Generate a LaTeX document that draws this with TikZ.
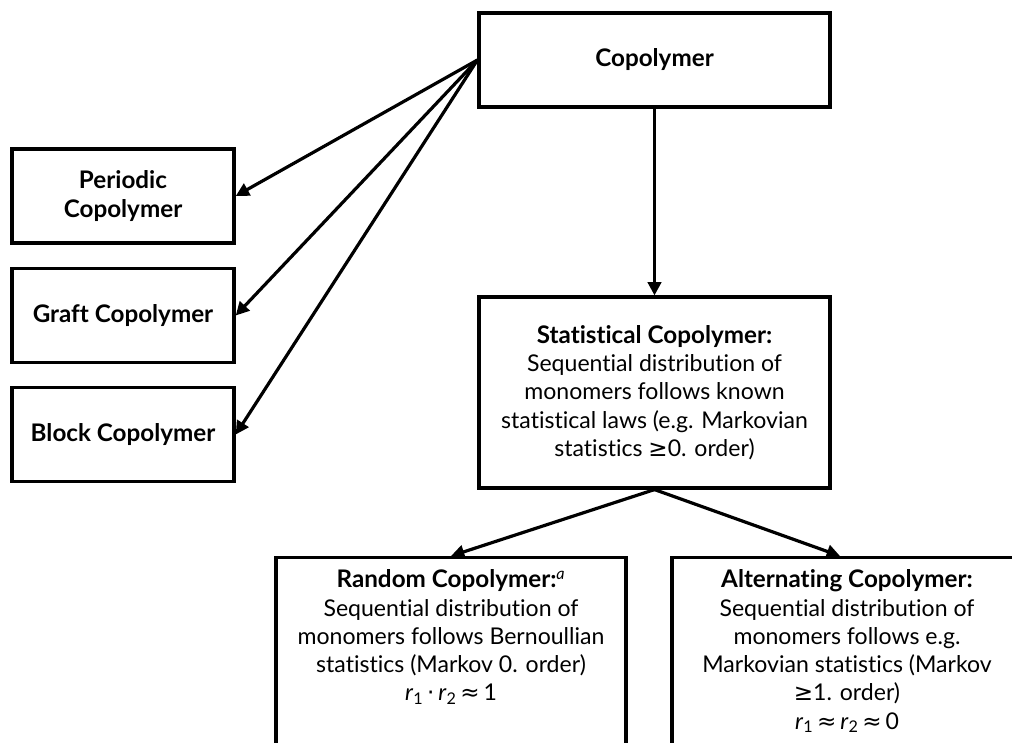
\documentclass[tikz,border=0pt]{standalone}
\usepackage{fontspec}
\setmainfont{Lato}[Ligatures=NoCommon, BoldFeatures={Scale=1.05}]
\newfontfamily\symf{DejaVu Sans}
\usetikzlibrary{arrows.meta}
\tikzset{
  box/.style={draw, line width=2.6pt, rectangle, align=center, inner sep=0pt,
    font={\fontsize{17.3}{21.2}\selectfont}},
  arr/.style={line width=2.4pt, -{Triangle[length=10pt,width=10pt]}},
}
\begin{document}
\begin{tikzpicture}[x=0.75pt,y=-0.75pt]
\clip (0,0) rectangle (1012,742);
\fill[white] (0,0) rectangle (1012,742);
\node[box, minimum width=263pt, minimum height=70.5pt] (cop) at (654.5,60) {\textbf{Copolymer}};
\node[box, minimum width=166.5pt, minimum height=70.5pt] (per) at (123,196) {\textbf{Periodic}\\\textbf{Copolymer}};
\node[box, minimum width=166.5pt, minimum height=70.5pt] (gra) at (123,315.5) {\textbf{Graft Copolymer}};
\node[box, minimum width=166.5pt, minimum height=70.5pt] (blo) at (123,434.5) {\textbf{Block Copolymer}};
\node[box, minimum width=263pt, minimum height=143pt] (stat) at (654.5,392.5)
  {\textbf{Statistical Copolymer:}\\Sequential distribution of\\monomers follows known\\statistical laws (e.g. Markovian\\statistics {\symf ≥}0. order)};
\node[box, minimum width=262.5pt, anchor=north, inner ysep=9pt, text depth=160pt] (rand) at (451,556)
  {\textbf{Random Copolymer:}\textsuperscript{\textit{a}}\\Sequential distribution of\\monomers follows Bernoullian\\statistics (Markov 0. order)\\\textit{r}\textsubscript{1}\,{\symf ·}\,\textit{r}\textsubscript{2}\,{\symf ≈}\,1};
\node[box, minimum width=262.5pt, anchor=north, inner ysep=9pt, text depth=160pt] (alt) at (847,556)
  {\textbf{Alternating Copolymer:}\\Sequential distribution of\\monomers follows e.g.\\Markovian statistics (Markov\\{\symf ≥}1. order)\\\textit{r}\textsubscript{1}\,{\symf ≈}\,\textit{r}\textsubscript{2}\,{\symf ≈}\,0};
\draw[arr] (cop.west) -- (per.east);
\draw[arr] (cop.west) -- (gra.east);
\draw[arr] (cop.west) -- (blo.east);
\draw[arr] (cop.south) -- (stat.north);
\draw[arr] (stat.south) -- (rand.north);
\draw[arr] (stat.south) -- ([xshift=-5.25pt]alt.north);
\end{tikzpicture}
\end{document}
